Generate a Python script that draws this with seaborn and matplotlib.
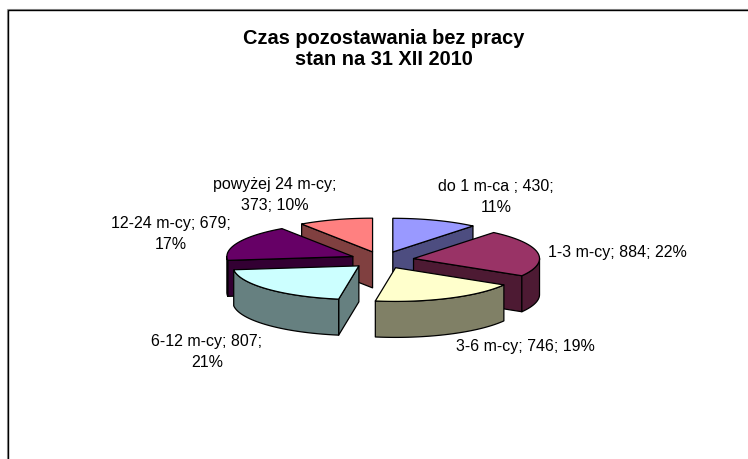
import numpy as np
import matplotlib
matplotlib.use("Agg")
import matplotlib.pyplot as plt
from matplotlib.patches import Polygon
import seaborn as sns

# Chart data
categories = ["do 1 m-ca ", "1-3 m-cy", "3-6 m-cy", "6-12 m-cy", "12-24 m-cy", "powyżej 24 m-cy"]
values = [430, 884, 746, 807, 679, 373]
percents = [11, 22, 19, 21, 17, 10]
title = "Czas pozostawania bez pracy\nstan na 31 XII 2010"

top_colors = ["#9999FF", "#993366", "#FFFFCC", "#CCFFFF", "#660066", "#FF8080"]
side_colors = ["#4D4D80", "#4D1A33", "#808066", "#668080", "#330033", "#804040"]

sns.set_theme(style="white")
plt.rcParams['font.family'] = ['Liberation Sans', 'DejaVu Sans']

# Pie geometry, in image pixels
cx, cy = 382, 260
rx, ry = 126, 33.7
ex, ey = 32, 8.5
depth = 36

fractions = np.array(values) / sum(values)
ends = np.cumsum(fractions) * 2 * np.pi
starts = ends - fractions * 2 * np.pi


def point(x0, y0, angle):
    return x0 + rx * np.sin(angle), y0 - ry * np.cos(angle)


def draw_slice(ax, i):
    a0, a1 = starts[i], ends[i]
    mid = (a0 + a1) / 2
    ax0 = cx + ex * np.sin(mid)
    ay0 = cy - ey * np.cos(mid)
    edge = dict(edgecolor="black", linewidth=0.9, joinstyle="round")

    # Radial walls, only the ones turned towards the viewer
    mx, my = point(ax0, ay0, mid)
    for a in (a0, a1):
        px, py = point(ax0, ay0, a)
        side = (px - ax0) * (my - ay0) - (py - ay0) * (mx - ax0)
        facing = side < 0 if px > ax0 else side > 0
        if facing:
            wall = [(ax0, ay0), (px, py), (px, py + depth), (ax0, ay0 + depth)]
            ax.add_patch(Polygon(wall, facecolor=side_colors[i], **edge))

    # Outer wall, the part of the arc below the ellipse's widest line
    lo, hi = max(a0, np.pi / 2), min(a1, 3 * np.pi / 2)
    if hi > lo:
        t = np.linspace(lo, hi, 60)
        xs, ys = point(ax0, ay0, t)
        outer = np.r_[np.c_[xs, ys], np.c_[xs[::-1], ys[::-1] + depth]]
        ax.add_patch(Polygon(outer, facecolor=side_colors[i], **edge))

    # Top face
    t = np.linspace(a0, a1, 60)
    xs, ys = point(ax0, ay0, t)
    top = np.r_[[(ax0, ay0)], np.c_[xs, ys]]
    ax.add_patch(Polygon(top, facecolor=top_colors[i], **edge))


fig = plt.figure(figsize=(7.48, 4.59), dpi=100)
ax = fig.add_axes([0, 0, 1, 1])
ax.set_xlim(0, 748)
ax.set_ylim(459, 0)
ax.axis("off")

# Chart frame, cut off at the right and bottom
ax.plot([6.8, 6.8, 748], [459, 8.8, 8.8], color="#999999", lw=0.8, solid_joinstyle="miter")
ax.plot([8, 8, 748], [459, 10.3, 10.3], color="black", lw=1.0, solid_joinstyle="miter")

# Back slices first
for i in [0, 5, 1, 4, 2, 3]:
    draw_slice(ax, i)

# Title
ax.text(384, 49, title, ha="center", va="center", fontsize=14.4, fontweight="bold",
        linespacing=1.15, color="black")

# Data labels
label_pos = [(496, 197), (617, 252), (525, 346), (207, 352), (171, 234), (275, 195)]
label_texts = [
    f"{categories[0]}; {values[0]};\n{percents[0]}%",
    f"{categories[1]}; {values[1]}; {percents[1]}%",
    f"{categories[2]}; {values[2]}; {percents[2]}%",
    f"{categories[3]}; {values[3]};\n{percents[3]}%",
    f"{categories[4]}; {values[4]};\n{percents[4]}%",
    f"{categories[5]};\n{values[5]}; {percents[5]}%",
]
for text, (x, y) in zip(label_texts, label_pos):
    ax.text(x, y, text, ha="center", va="center", fontsize=11.5, linespacing=1.42, color="black")

fig.savefig("out.png", dpi=100)
